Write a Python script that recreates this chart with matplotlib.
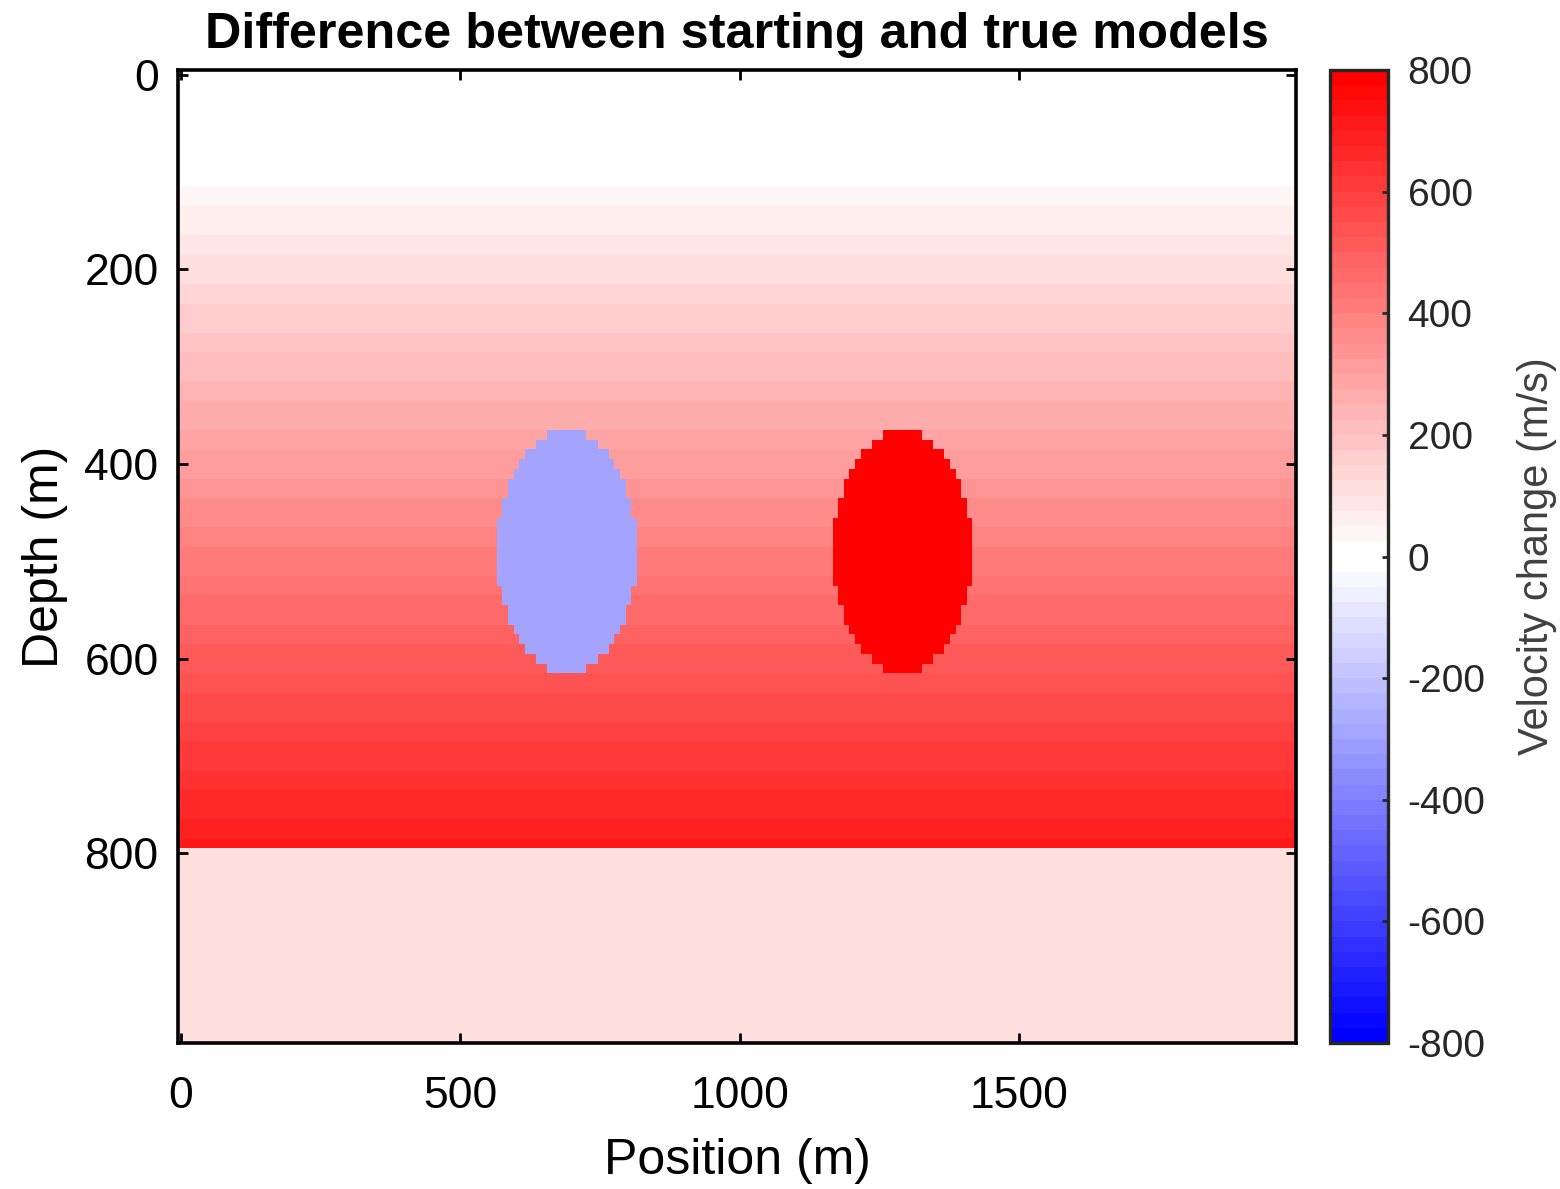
import matplotlib
matplotlib.use("Agg")
import matplotlib.pyplot as plt
import numpy as np
from matplotlib.colors import ListedColormap

plt.rcParams["font.family"] = ["Liberation Sans", "DejaVu Sans"]
plt.rcParams["axes.unicode_minus"] = False

# model grid (m)
grid_spacing = 10
n_x = 200
n_z = 100

# background velocity difference vs depth: zero on top, linear ramp, constant below
ramp_depths = [90, 790]
ramp_values = [0, 700]
deep_start = 800
deep_value = 110

# circular anomalies: centre x, centre z, radius, velocity difference
anomaly_x = [690, 1290]
anomaly_z = [490, 490]
anomaly_radius = [125, 125]
anomaly_values = [-300, 800]

x_ticks = [0, 500, 1000, 1500]
z_ticks = [0, 200, 400, 600, 800]
cbar_ticks = [-800, -600, -400, -200, 0, 200, 400, 600, 800]
v_limits = [-800, 800]


def blue_white_red(n_half=32):
    """64-level colormap: blue -> white, then white -> red."""
    t = np.arange(n_half) / (n_half - 1)
    lower = np.column_stack([t, t, np.ones(n_half)])
    upper = np.column_stack([np.ones(n_half), 1 - t, 1 - t])
    return ListedColormap(np.vstack([lower, upper]))


x = np.arange(n_x) * grid_spacing
z = np.arange(n_z) * grid_spacing
X, Z = np.meshgrid(x, z)

profile = np.interp(z, ramp_depths, ramp_values, left=0, right=ramp_values[-1])
profile[z >= deep_start] = deep_value
dv = np.repeat(profile[:, None], n_x, axis=1)

for cx, cz, r, val in zip(anomaly_x, anomaly_z, anomaly_radius, anomaly_values):
    dv[np.hypot(X - cx, Z - cz) <= r] = val

fig = plt.figure(figsize=(15.6, 11.89), dpi=100)
ax = fig.add_axes([0.1141, 0.1228, 0.7167, 0.8183])
cax = fig.add_axes([0.8526, 0.1228, 0.0372, 0.8183])

half = grid_spacing / 2
im = ax.imshow(
    dv,
    cmap=blue_white_red(),
    vmin=v_limits[0],
    vmax=v_limits[1],
    extent=[x[0] - half, x[-1] + half, z[-1] + half, z[0] - half],
    aspect="auto",
    interpolation="nearest",
)

ax.set_xticks(x_ticks)
ax.set_yticks(z_ticks)
ax.tick_params(
    direction="in", top=True, right=True, length=7, width=2,
    labelsize=32, colors="black",
)
ax.tick_params(axis="x", pad=24)
ax.tick_params(axis="y", pad=14)
for side in ax.spines.values():
    side.set_linewidth(2.6)

ax.set_xlabel("Position (m)", fontsize=36, labelpad=15)
ax.set_ylabel("Depth (m)", fontsize=36, labelpad=12)
ax.set_title("Difference between starting and true models",
             fontsize=36.3, fontweight="bold", pad=16)

cb = fig.colorbar(im, cax=cax, ticks=cbar_ticks)
cb.outline.set_edgecolor("#262626")
cb.outline.set_linewidth(2.4)
cax.tick_params(direction="in", length=4.5, width=2, labelsize=28,
                colors="#262626", pad=14)
cb.set_label("Velocity change (m/s)", fontsize=30, color="#404040", labelpad=23)

fig.savefig("out.png", dpi=100)
